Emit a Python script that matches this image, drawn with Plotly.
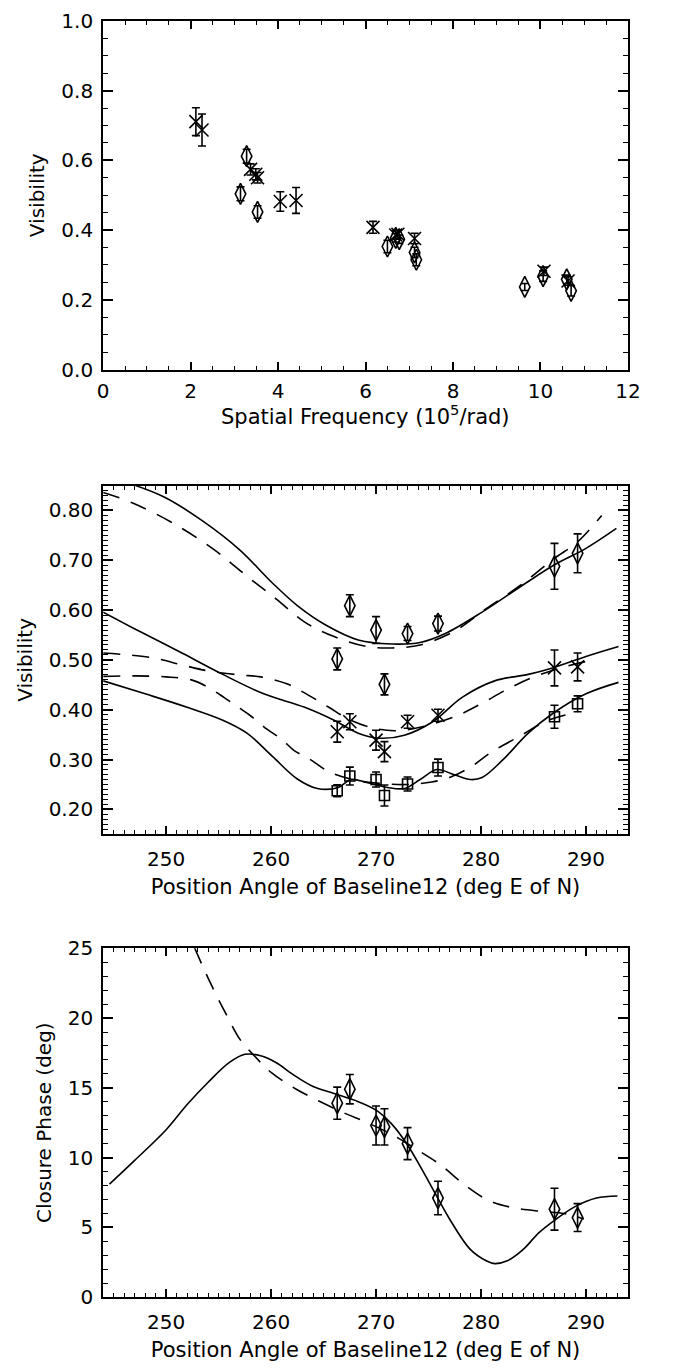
import plotly.graph_objects as go

# ---------------- Panel 1: visibility vs spatial frequency ----------------
sf_cross = [2.12, 2.26, 3.37, 3.49, 3.53, 4.05, 4.41, 6.17, 6.69, 6.74, 7.12, 10.08, 10.63]
vis_cross = [0.711, 0.687, 0.574, 0.560, 0.550, 0.482, 0.485, 0.408, 0.386, 0.388, 0.376, 0.282, 0.254]
err_cross = [0.040, 0.046, 0.016, 0.016, 0.015, 0.028, 0.037, 0.017, 0.012, 0.012, 0.015, 0.012, 0.012]

sf_diam = [3.14, 3.28, 3.53, 6.50, 6.69, 6.77, 7.12, 7.16, 9.64, 10.06, 10.60, 10.70]
vis_diam = [0.504, 0.612, 0.452, 0.353, 0.378, 0.374, 0.336, 0.315, 0.237, 0.268, 0.259, 0.226]
err_diam = [0.020, 0.020, 0.018, 0.018, 0.012, 0.012, 0.015, 0.017, 0.010, 0.015, 0.012, 0.015]

# ---------------- Panel 2: visibility vs position angle ----------------
pa = [266.3, 267.5, 270.0, 270.8, 273.0, 275.9, 287.0, 289.2]
vis_b1 = [0.502, 0.609, 0.560, 0.451, 0.553, 0.573, 0.688, 0.714]
err_b1 = [0.022, 0.022, 0.027, 0.021, 0.014, 0.015, 0.046, 0.039]
vis_b2 = [0.356, 0.376, 0.339, 0.316, 0.376, 0.389, 0.484, 0.486]
err_b2 = [0.021, 0.016, 0.020, 0.020, 0.013, 0.012, 0.036, 0.028]
vis_b3 = [0.2375, 0.267, 0.260, 0.228, 0.251, 0.284, 0.386, 0.412]
err_b3 = [0.012, 0.018, 0.015, 0.021, 0.014, 0.017, 0.023, 0.016]

# model curves (solid / dashed) for each baseline
m1_solid_pa = [247.1, 249.9, 253.4, 257.0, 260.1, 262.5, 265.2, 268.3, 271.5, 274.2, 276.6, 280.1, 284.1, 287.0, 290.0, 292.9]
m1_solid_v = [0.850, 0.826, 0.780, 0.721, 0.655, 0.609, 0.570, 0.540, 0.532, 0.535, 0.553, 0.596, 0.652, 0.691, 0.724, 0.764]
m1_dash_pa = [244.0, 246.7, 250.7, 254.6, 257.7, 260.5, 263.2, 266.0, 269.1, 271.5, 274.2, 277.4, 280.5, 283.7, 286.8, 289.2, 291.5]
m1_dash_v = [0.836, 0.816, 0.774, 0.721, 0.668, 0.622, 0.576, 0.547, 0.527, 0.524, 0.530, 0.557, 0.603, 0.649, 0.701, 0.737, 0.790]

m2_solid_pa = [244.0, 247.5, 251.5, 255.4, 259.3, 263.2, 266.0, 268.3, 270.3, 272.7, 275.4, 278.2, 281.3, 284.5, 286.8, 290.0, 293.1]
m2_solid_v = [0.596, 0.557, 0.514, 0.471, 0.432, 0.405, 0.379, 0.353, 0.343, 0.349, 0.376, 0.425, 0.458, 0.471, 0.484, 0.507, 0.527]
m2_dash_pa = [244.0, 248.5, 251.5, 254.0, 257.0, 259.0, 261.5, 263.5, 265.5, 267.5, 270.0, 272.0, 274.4, 277.6, 280.0, 282.4, 284.8, 287.6, 290.0]
m2_dash_v = [0.514, 0.505, 0.490, 0.478, 0.470, 0.466, 0.452, 0.430, 0.405, 0.380, 0.362, 0.358, 0.366, 0.387, 0.412, 0.440, 0.464, 0.484, 0.497]

m3_solid_pa = [244.0, 248.0, 252.0, 255.4, 257.7, 260.1, 262.5, 264.4, 266.4, 267.6, 269.1, 271.1, 272.7, 274.2, 275.8, 277.4, 279.0, 280.1, 282.1, 284.5, 286.8, 290.0, 293.1]
m3_solid_v = [0.458, 0.432, 0.405, 0.379, 0.353, 0.307, 0.261, 0.242, 0.244, 0.260, 0.254, 0.244, 0.242, 0.260, 0.280, 0.270, 0.260, 0.264, 0.300, 0.353, 0.392, 0.432, 0.455]
m3_dash_pa = [244.0, 247.0, 250.0, 252.4, 254.0, 255.5, 256.8, 258.1, 259.6, 261.0, 262.2, 263.6, 265.3, 266.7, 268.5, 270.5, 273.0, 275.3, 277.0, 279.0, 281.0, 283.6, 286.4, 289.2]
m3_dash_v = [0.467, 0.468, 0.466, 0.460, 0.445, 0.425, 0.406, 0.387, 0.361, 0.341, 0.318, 0.302, 0.278, 0.266, 0.257, 0.252, 0.250, 0.255, 0.264, 0.285, 0.315, 0.346, 0.379, 0.395]

# ---------------- Panel 3: closure phase vs position angle ----------------
cp = [13.9, 14.9, 12.3, 12.2, 11.0, 7.1, 6.3, 5.7]
cp_err = [1.15, 1.05, 1.40, 1.30, 1.15, 1.20, 1.50, 1.00]

cp_solid_pa = [244.6, 247.0, 250.0, 252.0, 254.0, 256.0, 257.5, 259.0, 260.5, 262.0, 264.0, 266.0, 268.0, 270.0, 271.5, 273.0, 275.0, 277.0, 279.0, 280.5, 281.3, 282.5, 284.0, 285.5, 287.0, 289.0, 291.0, 293.0]
cp_solid_v = [8.1, 9.8, 12.0, 13.8, 15.4, 16.8, 17.4, 17.3, 16.8, 16.0, 15.1, 14.6, 14.1, 13.4, 12.4, 10.9, 8.3, 5.6, 3.4, 2.6, 2.4, 2.6, 3.4, 4.6, 5.5, 6.5, 7.1, 7.25]
cp_dash_pa = [252.7, 254.1, 255.7, 257.1, 258.4, 260.0, 262.4, 264.7, 267.1, 269.0, 271.4, 273.7, 276.1, 278.4, 280.8, 283.1, 285.9, 287.9, 289.8]
cp_dash_v = [25.05, 22.7, 20.3, 18.4, 17.3, 16.1, 14.9, 14.0, 13.15, 12.55, 11.7, 10.66, 9.5, 8.07, 6.9, 6.4, 6.13, 5.99, 5.6]

W, H = 674, 1370
FONT = "DejaVu Sans"
BLACK = "#000000"


def ydom(top_px, bottom_px):
    return [1 - bottom_px / H, 1 - top_px / H]


XDOM = [100 / W, 640 / W]

fig = go.Figure()


def points(x, y, err, symbol, size, xa, ya):
    fig.add_trace(go.Scatter(
        x=x, y=y, mode="markers", xaxis=xa, yaxis=ya,
        marker=dict(symbol=symbol, size=size, color=BLACK,
                    line=dict(color=BLACK, width=1.6)),
        error_y=dict(type="data", array=err, visible=True, color=BLACK,
                     thickness=1.6, width=4),
        showlegend=False, hoverinfo="skip"))


def curve(x, y, dash, xa, ya):
    fig.add_trace(go.Scatter(
        x=x, y=y, mode="lines", xaxis=xa, yaxis=ya,
        line=dict(color=BLACK, width=1.6, dash=dash, shape="spline", smoothing=1.0),
        showlegend=False, hoverinfo="skip"))


DASH = "17px,12px"

# panel 1
points(sf_diam, vis_diam, err_diam, "diamond-tall-open", 15, "x", "y")
points(sf_cross, vis_cross, err_cross, "x-thin-open", 13, "x", "y")

# panel 2
for xs, ys, d in [(m1_solid_pa, m1_solid_v, "solid"), (m1_dash_pa, m1_dash_v, DASH),
                  (m2_solid_pa, m2_solid_v, "solid"), (m2_dash_pa, m2_dash_v, DASH),
                  (m3_solid_pa, m3_solid_v, "solid"), (m3_dash_pa, m3_dash_v, DASH)]:
    curve(xs, ys, d, "x2", "y2")
points(pa, vis_b1, err_b1, "diamond-tall-open", 15, "x2", "y2")
points(pa, vis_b2, err_b2, "x-thin-open", 13, "x2", "y2")
points(pa, vis_b3, err_b3, "square-open", 10, "x2", "y2")

# panel 3
curve(cp_solid_pa, cp_solid_v, "solid", "x3", "y3")
curve(cp_dash_pa, cp_dash_v, DASH, "x3", "y3")
points(pa, cp, cp_err, "diamond-tall-open", 15, "x3", "y3")


def axis(rng, dtick, minor_dtick, fmt, title, standoff, label_gap, ticklen, title_size,
         tick0=0, **extra):
    d = dict(
        range=rng, tick0=tick0, dtick=dtick, tickformat=fmt,
        showline=True, linecolor=BLACK, linewidth=2, mirror="allticks",
        ticks="inside", ticklen=ticklen, tickwidth=1.5, tickcolor=BLACK,
        minor=dict(ticks="inside", ticklen=ticklen / 2, tickwidth=1.2, tickcolor=BLACK,
                   dtick=minor_dtick, tick0=tick0, showgrid=False),
        showgrid=False, zeroline=False, ticklabelstandoff=label_gap,
        tickfont=dict(family=FONT, size=20, color=BLACK),
        title=dict(text=title, font=dict(family=FONT, size=title_size, color=BLACK),
                   standoff=standoff),
    )
    d.update(extra)
    return d


XT = "Position Angle of Baseline12 (deg E of N)"

fig.update_layout(
    width=W, height=H,
    margin=dict(l=0, r=0, t=0, b=0),
    paper_bgcolor="white", plot_bgcolor="white",
    font=dict(family=FONT, color=BLACK),
    xaxis=axis([0, 12], 2, 0.5, "d", "", 0, 2, 8, 21,
               domain=XDOM, anchor="y"),
    yaxis=axis([0, 1], 0.2, 0.05, ".1f", "Visibility", 11, 4, 10, 20,
               domain=ydom(9, 364), anchor="x"),
    xaxis2=axis([244, 294], 10, 1, "d", XT, 9, 6, 8, 21,
                domain=XDOM, anchor="y2"),
    yaxis2=axis([0.15, 0.85], 0.1, 0.01, ".2f", "Visibility", 11, 4, 10, 20,
                domain=ydom(482, 837), anchor="x2"),
    xaxis3=axis([244, 294], 10, 1, "d", XT, 9, 6, 8, 21,
                domain=XDOM, anchor="y3"),
    yaxis3=axis([0, 25], 5, 1, "d", "Closure Phase (deg)", 11, 4, 10, 20,
                domain=ydom(953, 1308), anchor="x3"),
    annotations=[dict(
        text="Spatial Frequency (10<sup>5</sup>/rad)",
        xref="paper", yref="paper", x=sum(XDOM) / 2, y=1 - 410 / H,
        xanchor="center", yanchor="middle", showarrow=False,
        font=dict(family=FONT, size=21, color=BLACK))],
)

fig.write_html("out.html")
